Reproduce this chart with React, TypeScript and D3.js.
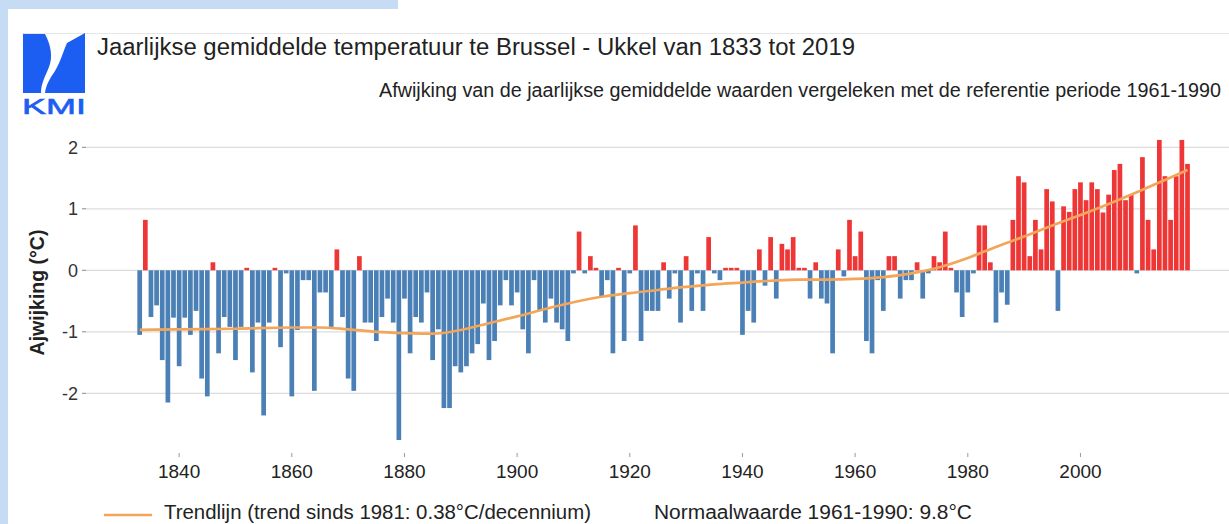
import React from "react";
import * as d3 from "d3";

// yearly anomaly vs 1961-1990 normal (°C), Uccle 1833-2019
const startYear = 1833;
const endYear = 2019;
const anomalies = [
  -1.05, 0.82, -0.76, -0.57, -1.46, -2.15, -0.77, // 1833-1839
  -1.56, -0.77, -1.05, -0.66, -1.76, -2.05, 0.13, -1.35, -0.76, -0.92, // 1840s
  -1.46, -0.92, 0.04, -1.66, -0.85, -2.36, -0.85, 0.04, -1.25, -0.05, // 1850s
  -2.05, -0.97, -0.16, -0.16, -1.96, -0.36, -0.36, -0.92, 0.34, -0.76, // 1860s
  -1.76, -1.96, 0.23, -0.85, -0.85, -1.15, -0.76, -0.46, -0.85, -2.76, // 1870s
  -0.46, -1.35, -0.76, -0.85, -0.36, -1.46, -0.96, -2.24, -2.24, -1.56, // 1880s
  -1.66, -1.56, -1.35, -1.2, -0.54, -1.46, -1.15, -0.57, -0.16, -0.57, // 1890s
  -0.36, -0.96, -1.35, -0.16, -0.66, -0.85, -0.46, -0.85, -0.96, -1.15, // 1900s
  -0.05, 0.63, -0.05, 0.23, 0.04, -0.42, -0.16, -1.35, 0.04, -1.15, // 1910s
  -0.05, 0.73, -1.15, -0.66, -0.66, -0.66, 0.13, -0.46, -0.05, -0.85, // 1920s
  0.23, -0.66, -0.05, -0.66, 0.54, -0.05, -0.16, 0.04, 0.04, 0.04, // 1930s
  -1.05, -0.66, -0.85, 0.34, -0.25, 0.54, -0.46, 0.43, 0.34, 0.54, // 1940s
  0.04, 0.04, -0.46, 0.13, -0.46, -0.54, -1.35, 0.34, -0.1, 0.82, // 1950s
  0.23, 0.63, -1.15, -1.35, -0.16, -0.66, 0.23, 0.23, -0.46, -0.16, // 1960s
  -0.16, 0.13, -0.46, -0.05, 0.23, 0.13, 0.63, 0.04, -0.36, -0.76, // 1970s
  -0.36, -0.05, 0.73, 0.73, 0.13, -0.85, -0.36, -0.56, 0.82, 1.53, // 1980s
  1.43, 0.23, 0.82, 0.34, 1.32, 1.12, -0.66, 1.04, 0.95, 1.32, // 1990s
  1.43, 1.14, 1.43, 1.32, 0.94, 1.23, 1.63, 1.73, 1.14, 1.23, // 2000s
  -0.05, 1.84, 0.82, 0.34, 2.12, 1.53, 0.82, 1.53, 2.12, 1.73, // 2010s
];
const years = d3.range(startYear, endYear + 1);

// smoothed trend
const trendYears = [1833, 1840, 1850, 1860, 1865, 1870, 1875, 1880, 1885, 1890, 1895, 1900, 1905, 1910, 1915, 1920, 1925, 1930, 1935, 1940, 1945, 1950, 1955, 1960, 1965, 1970, 1975, 1980, 1985, 1990, 1995, 2000, 2005, 2010, 2015, 2019];
const trendValues = [-0.97, -0.96, -0.95, -0.93, -0.93, -0.96, -1.0, -1.02, -1.03, -0.97, -0.86, -0.75, -0.63, -0.52, -0.43, -0.37, -0.32, -0.27, -0.23, -0.2, -0.17, -0.15, -0.15, -0.14, -0.11, -0.05, 0.05, 0.2, 0.38, 0.55, 0.73, 0.9, 1.08, 1.27, 1.47, 1.63];

const yTicks = [-2, -1, 0, 1, 2];
const xTicks = [1840, 1860, 1880, 1900, 1920, 1940, 1960, 1980, 2000];

const title = "Jaarlijkse gemiddelde temperatuur te Brussel - Ukkel van 1833 tot 2019";
const subtitle = "Afwijking van de jaarlijkse gemiddelde waarden vergeleken met de referentie periode 1961-1990";
const yTitle = "Ajwijking (°C)";
const legendTrend = "Trendlijn (trend sinds 1981: 0.38°C/decennium)";
const legendNormal = "Normaalwaarde 1961-1990: 9.8°C";

const FONT = "'Liberation Sans', Arial, Helvetica, sans-serif";

export default function App() {
  const width = 1229;
  const height = 524;

  const x = d3.scaleLinear().domain([startYear, endYear]).range([139.7, 1187.5]);
  const y = d3.scaleLinear().domain([-2, 2]).range([393.3, 147.3]);
  const barW = 4.7;

  const trendLine = d3
    .line<number>()
    .x((d, i) => x(trendYears[i]))
    .y((d) => y(d))
    .curve(d3.curveMonotoneX);

  return (
    <svg
      width={width}
      height={height}
      style={{ position: "absolute", left: 0, top: 0, background: "#fff" }}
      fontFamily={FONT}
    >
      {/* light blue frame */}
      <rect x={0} y={0} width={398} height={9} fill="#c6dcf5" />
      <rect x={0} y={0} width={8} height={height} fill="#c6dcf5" />
      <line x1={22} x2={width} y1={33.5} y2={33.5} stroke="#e6e6e6" />

      {/* logo */}
      <g fill="#1d5ef2">
        <path d="M23,34 L45,34 C51,45 53,57 49,67 C46,75 41,83 41,93 L23,93 Z" />
        <path d="M67,43 L85,33 L85,93 L45,93 C46,85 50,78 55,71 C60,63 63,52 67,43 Z" />
        <text x={22} y={114} fontSize={22} textLength={64} lengthAdjust="spacingAndGlyphs" stroke="#1d5ef2" strokeWidth={0.6}>KMI</text>
      </g>

      <text x={97} y={55} fontSize={23.5} fill="#222" textLength={758} lengthAdjust="spacingAndGlyphs">{title}</text>
      <text x={379} y={97} fontSize={19.5} fill="#222" textLength={842} lengthAdjust="spacingAndGlyphs">{subtitle}</text>

      {/* grid + y axis */}
      {yTicks.map((t) => (
        <g key={t}>
          <line x1={86} x2={width} y1={y(t)} y2={y(t)} stroke="#dcdcdc" strokeWidth={1.2} />
          <line x1={82} x2={86} y1={y(t)} y2={y(t)} stroke="#888" />
          <text x={78} y={y(t)} dy="0.35em" textAnchor="end" fontSize={18} fill="#333">{t}</text>
        </g>
      ))}
      <text
        transform={`translate(44,${(225 + 360) / 2}) rotate(-90)`}
        textAnchor="middle"
        fontSize={19.5}
        fontWeight="bold"
        fill="#222"
      >
        {yTitle}
      </text>

      {/* bars */}
      {anomalies.map((v, i) => (
        <rect
          key={years[i]}
          x={x(years[i]) - barW / 2}
          y={y(Math.max(0, v))}
          width={barW}
          height={Math.abs(y(v) - y(0))}
          fill={v >= 0 ? "#ef3636" : "#4a80b5"}
        />
      ))}

      <path d={trendLine(trendValues) || ""} fill="none" stroke="#f3a55a" strokeWidth={2.7} />

      {/* x axis */}
      {xTicks.map((t) => (
        <g key={t}>
          <line x1={x(t)} x2={x(t)} y1={453} y2={457} stroke="#999" />
          <text x={x(t)} y={478} textAnchor="middle" fontSize={19} fill="#222">{t}</text>
        </g>
      ))}

      {/* legend */}
      <line x1={104} x2={152} y1={515} y2={515} stroke="#f3a55a" strokeWidth={2.7} />
      <text x={164} y={519} fontSize={19.5} fill="#222" textLength={427} lengthAdjust="spacingAndGlyphs">{legendTrend}</text>
      <text x={654} y={519} fontSize={20} fill="#222" textLength={318} lengthAdjust="spacingAndGlyphs">{legendNormal}</text>
    </svg>
  );
}
